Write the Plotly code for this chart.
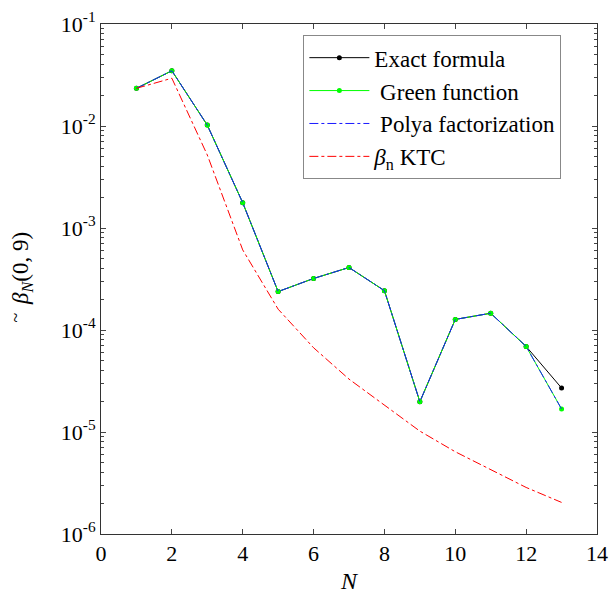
import plotly.graph_objects as go

N = list(range(1, 14))
exact = [0.0234, 0.0348, 0.0102, 0.00177, 2.38e-4, 3.2e-4, 4.1e-4, 2.43e-4, 1.98e-5, 1.27e-4, 1.46e-4, 6.9e-5, 2.7e-5]
green = [0.0234, 0.0348, 0.0102, 0.00177, 2.38e-4, 3.2e-4, 4.1e-4, 2.43e-4, 1.98e-5, 1.27e-4, 1.46e-4, 6.9e-5, 1.68e-5]
polya = [0.0234, 0.0348, 0.0102, 0.00177, 2.38e-4, 3.2e-4, 4.1e-4, 2.43e-4, 1.98e-5, 1.27e-4, 1.46e-4, 6.9e-5, 1.68e-5]
ktc = [0.0234, 0.0294, 5.2e-3, 6.1e-4, 1.6e-4, 6.7e-5, 3.3e-5, 1.85e-5, 1.02e-5, 6.4e-6, 4.24e-6, 2.86e-6, 2.04e-6]

yticks = [1e-6, 1e-5, 1e-4, 1e-3, 1e-2, 1e-1]
yticktext = ["10<sup>-6</sup>", "10<sup>-5</sup>", "10<sup>-4</sup>", "10<sup>-3</sup>", "10<sup>-2</sup>", "10<sup>-1</sup>"]
xticks = [0, 2, 4, 6, 8, 10, 12, 14]

font = "Liberation Serif, Times New Roman, serif"

fig = go.Figure()
fig.add_trace(go.Scatter(x=N, y=exact, mode="lines+markers", name="Exact formula",
                         line=dict(color="black", width=1), marker=dict(color="black", size=5)))
fig.add_trace(go.Scatter(x=N, y=green, mode="lines+markers", name=" Green function",
                         line=dict(color="#00ff00", width=1), marker=dict(color="#00ff00", size=5)))
fig.add_trace(go.Scatter(x=N, y=polya, mode="lines", name=" Polya factorization",
                         line=dict(color="#1a1aff", width=1, dash="dashdot")))
fig.add_trace(go.Scatter(x=N, y=ktc, mode="lines", name="<i>β</i><sub>n</sub> KTC",
                         line=dict(color="red", width=1, dash="dashdot")))

fig.update_layout(
    width=610, height=599,
    margin=dict(l=101, r=13, t=24, b=65),
    paper_bgcolor="white", plot_bgcolor="white",
    font=dict(family=font, size=22, color="black"),
    showlegend=True,
    legend=dict(x=0.408, y=0.978, xanchor="left", yanchor="top",
                bordercolor="#888888", borderwidth=1, bgcolor="white",
                font=dict(size=23), itemwidth=60, tracegroupgap=0),
    annotations=[
        dict(text="<i>β<sub>N</sub></i>(0, 9)", xref="paper", yref="paper",
             x=-0.159, y=0.52, xanchor="center", yanchor="middle", textangle=-90,
             showarrow=False, font=dict(size=23, family=font)),
        dict(text="~", xref="paper", yref="paper",
             x=-0.171, y=0.425, xanchor="center", yanchor="middle", textangle=-90,
             showarrow=False, font=dict(size=18, family=font)),
    ],
)
fig.update_xaxes(range=[0, 14], tickvals=xticks, ticks="inside", ticklen=5,
                 showline=True, linecolor="#333333", linewidth=1, mirror="ticks",
                 showgrid=False, zeroline=False, tickfont=dict(size=22), automargin=False,
                 title=dict(text="<i>N</i>", font=dict(size=24), standoff=6))
fig.update_yaxes(type="log", range=[-6, -1], tickvals=yticks, ticktext=yticktext,
                 ticks="inside", ticklen=5, showline=True, linecolor="#333333", linewidth=1,
                 mirror="ticks", showgrid=False, zeroline=False, tickfont=dict(size=22),
                 automargin=False,
                 minor=dict(ticks="inside", ticklen=3, showgrid=False,
                            tickvals=[m * 10 ** e for e in range(-6, -1) for m in range(2, 10)]))

fig.write_html("out.html")
